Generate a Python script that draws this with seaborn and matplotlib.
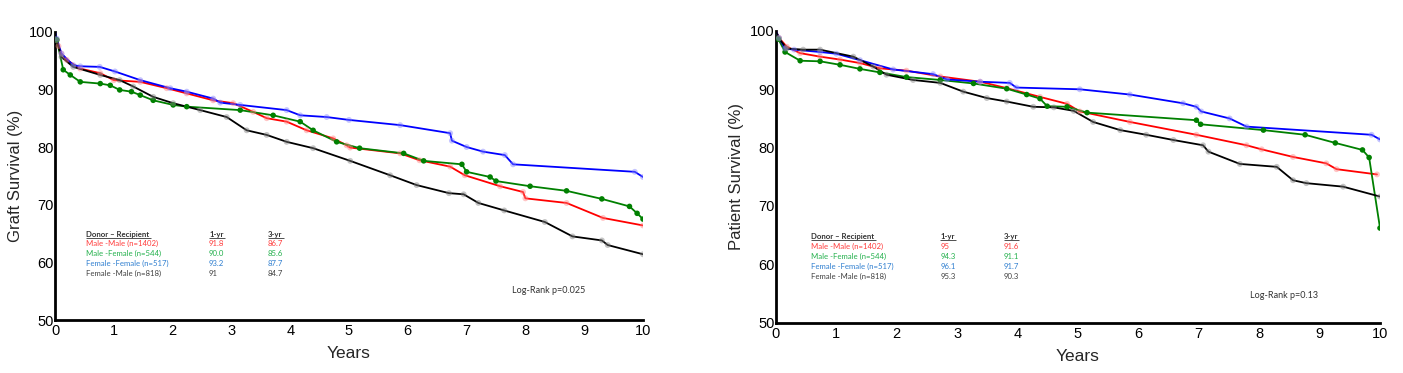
import matplotlib
matplotlib.use("Agg")
import matplotlib.pyplot as plt
import seaborn as sns
import pandas as pd

# ---------------- data ----------------
groups = ["Male -Male (n=1402)", "Male -Female (n=544)", "Female -Female (n=517)", "Female -Male (n=818)"]

# Graft survival
graft_mm_t = [0, 0.03, 0.06, 0.11, 0.2, 0.43, 0.77, 1.0, 1.45, 1.9, 2.24, 2.69, 3.03, 3.37, 3.6, 3.94, 4.28, 4.73, 4.96, 5.02, 5.87, 6.2, 6.72, 6.97, 7.57, 7.96, 8.0, 8.7, 9.32, 10.0]
graft_mm_s = [100, 98.6, 97.5, 96.2, 95.1, 93.6, 92.8, 91.6, 91.3, 90.2, 89.3, 88.1, 87.6, 86.1, 85.0, 84.4, 82.9, 81.5, 80.3, 79.9, 78.9, 77.7, 76.6, 75.1, 73.2, 72.2, 71.1, 70.3, 67.7, 66.4]

graft_mf_t = [0, 0.03, 0.14, 0.26, 0.43, 0.77, 0.94, 1.1, 1.3, 1.45, 1.67, 2.01, 2.24, 3.15, 3.71, 4.17, 4.39, 4.79, 5.18, 5.93, 6.27, 6.92, 7.0, 7.4, 7.5, 8.08, 8.7, 9.3, 9.77, 9.9, 10.0]
graft_mf_s = [100, 98.6, 93.4, 92.5, 91.3, 91.0, 90.7, 89.9, 89.6, 89.0, 88.1, 87.3, 87.0, 86.4, 85.5, 84.4, 82.9, 80.9, 79.8, 78.9, 77.6, 77.0, 75.7, 74.8, 74.1, 73.2, 72.4, 71.0, 69.7, 68.5, 67.5]

graft_ff_t = [0, 0.03, 0.11, 0.31, 0.43, 0.76, 1.02, 1.45, 1.96, 2.24, 2.69, 2.81, 3.15, 3.94, 4.17, 4.62, 5.0, 5.87, 6.72, 6.75, 7.0, 7.28, 7.65, 7.79, 9.86, 10.0]
graft_ff_s = [100, 98.8, 96.2, 94.2, 94.0, 93.9, 93.1, 91.6, 90.2, 89.6, 88.4, 87.7, 87.3, 86.4, 85.5, 85.2, 84.7, 83.8, 82.4, 81.1, 80.0, 79.2, 78.6, 77.0, 75.7, 74.8]

graft_fm_t = [0, 0.03, 0.11, 0.31, 0.77, 1.1, 1.33, 1.67, 2.01, 2.47, 2.92, 3.26, 3.6, 3.94, 4.39, 5.02, 5.7, 6.15, 6.7, 6.95, 7.2, 7.64, 8.33, 8.8, 9.3, 9.4, 10.0]
graft_fm_s = [100, 98.5, 95.6, 93.9, 92.5, 91.6, 90.5, 88.7, 87.6, 86.4, 85.2, 82.9, 82.1, 80.9, 79.8, 77.6, 75.1, 73.4, 72.0, 71.8, 70.3, 69.0, 67.0, 64.5, 63.8, 63.0, 61.4]

# Patient survival
pat_mm_t = [0, 0.05, 0.18, 0.4, 0.73, 1.06, 1.39, 1.72, 2.16, 2.72, 3.38, 3.82, 4.37, 4.82, 5.03, 5.86, 6.96, 7.79, 8.04, 8.56, 9.11, 9.28, 9.95]
pat_mm_s = [100, 98.8, 97.3, 96.2, 95.6, 95.1, 94.5, 93.6, 93.2, 92.2, 91.3, 90.2, 88.7, 87.5, 86.2, 84.4, 82.2, 80.4, 79.7, 78.4, 77.3, 76.3, 75.4]

pat_mf_t = [0, 0.04, 0.15, 0.4, 0.73, 1.06, 1.39, 1.72, 2.16, 2.72, 3.27, 3.82, 4.15, 4.37, 4.49, 4.82, 5.15, 6.96, 7.03, 8.07, 8.76, 9.26, 9.71, 9.82, 10.0]
pat_mf_s = [100, 98.6, 96.4, 94.9, 94.8, 94.2, 93.5, 92.9, 92.1, 91.6, 91.0, 90.1, 89.1, 88.4, 87.1, 87.0, 86.0, 84.7, 84.0, 83.0, 82.2, 80.8, 79.6, 78.3, 66.2]

pat_ff_t = [0, 0.05, 0.15, 0.3, 0.73, 1.0, 1.39, 1.94, 2.6, 2.83, 3.38, 3.87, 3.98, 5.03, 5.86, 6.74, 6.96, 7.04, 7.51, 7.79, 9.86, 10.0]
pat_ff_s = [100, 98.8, 97.0, 96.8, 96.4, 96.1, 95.0, 93.4, 92.6, 91.7, 91.3, 91.1, 90.3, 90.0, 89.1, 87.6, 87.0, 86.2, 85.0, 83.6, 82.2, 81.4]

pat_fm_t = [0, 0.05, 0.18, 0.45, 0.73, 1.28, 1.61, 1.83, 2.27, 2.72, 3.1, 3.49, 3.82, 4.26, 4.6, 4.93, 5.25, 5.7, 6.13, 6.58, 7.07, 7.16, 7.68, 8.29, 8.56, 8.78, 9.39, 10.0]
pat_fm_s = [100, 98.7, 97.0, 96.8, 96.8, 95.6, 93.9, 92.5, 91.6, 91.1, 89.6, 88.5, 87.9, 87.0, 86.9, 86.3, 84.4, 83.0, 82.2, 81.3, 80.4, 79.3, 77.2, 76.7, 74.4, 73.9, 73.3, 71.6]

graft_1yr = ["91.8", "90.0", "93.2", "91"]
graft_3yr = ["86.7", "85.6", "87.7", "84.7"]
pat_1yr = ["95", "94.3", "96.1", "95.3"]
pat_3yr = ["91.6", "91.1", "91.7", "90.3"]

# ---------------- styling ----------------
sns.set_theme(style="white")
plt.rcParams["font.family"] = ["Liberation Sans", "DejaVu Sans"]

line_colors = ["#ff0000", "#008000", "#0000ff", "#000000"]
marker_colors = ["#ff8080", "#008000", "#8080ff", "#808080"]
marker_alpha = [0.45, 1.0, 0.45, 0.45]
marker_size = [18, 16, 18, 18]
text_colors = ["#ff3b3b", "#22b04b", "#2f7fd0", "#404040"]

fig = plt.figure(figsize=(14.03, 3.73), dpi=100)
ax1 = fig.add_axes([55 / 1403, 1 - 320 / 373, (643 - 55) / 1403, (320 - 31.7) / 373])
ax2 = fig.add_axes([776 / 1403, 1 - 322.5 / 373, (1380 - 776) / 1403, (322.5 - 31) / 373])


def draw(ax, series, ylabel, yr1, yr3, legend_pos, logrank, logpos):
    for i, (t, s) in enumerate(series):
        df = pd.DataFrame({"Years": t, "Survival": s})
        sns.lineplot(data=df, x="Years", y="Survival", ax=ax, color=line_colors[i],
                     linewidth=1.3, estimator=None, sort=False, zorder=3 + i * 0.1)
        sns.scatterplot(data=df.iloc[1:], x="Years", y="Survival", ax=ax, color=marker_colors[i],
                        s=marker_size[i], alpha=marker_alpha[i], edgecolor="none", zorder=4 + i * 0.1,
                        legend=False)
    ax.set_xlim(0, 10)
    ax.set_ylim(50, 100)
    ax.set_xticks(range(0, 11))
    ax.set_yticks(range(50, 101, 10))
    ax.tick_params(axis="both", direction="in", length=6, width=1.5, labelsize=10.5, pad=1, colors="black")
    ax.tick_params(axis="x", pad=3)
    for sp in ["top", "right"]:
        ax.spines[sp].set_visible(False)
    for sp in ["left", "bottom"]:
        ax.spines[sp].set_linewidth(2)
        ax.spines[sp].set_color("black")
    ax.set_xlabel("Years", fontsize=12.5, labelpad=6)
    ax.set_ylabel(ylabel, fontsize=12, labelpad=4)
    ax.grid(False)

    lx, ly, c1, c3, dy, ulen, ulen2 = legend_pos
    fs = 5.6
    fam = ["Lato", "DejaVu Sans"]
    ax.text(lx, ly, "Donor – Recipient", fontsize=fs, color="#333333", fontweight="bold",
            va="center", ha="left", family=fam)
    ax.text(c1, ly, "1-yr", fontsize=fs, color="#333333", fontweight="bold", va="center", family=fam)
    ax.text(c3, ly, "3-yr", fontsize=fs, color="#333333", fontweight="bold", va="center", family=fam)
    # underlines of header texts
    ax.hlines(ly - 0.62, lx, lx + ulen, color="#333333", linewidth=0.6)
    ax.hlines(ly - 0.62, c1, c1 + ulen2, color="#333333", linewidth=0.6)
    ax.hlines(ly - 0.62, c3, c3 + ulen2, color="#333333", linewidth=0.6)
    for i in range(4):
        y = ly - dy * (i + 1)
        ax.text(lx, y, groups[i], fontsize=fs, color=text_colors[i], va="center", family=fam)
        ax.text(c1, y, yr1[i], fontsize=fs, color=text_colors[i], va="center", family=fam)
        ax.text(c3, y, yr3[i], fontsize=fs, color=text_colors[i], va="center", family=fam)
    ax.text(logpos[0], logpos[1], logrank, fontsize=6.5, color="#333333", va="center", family=fam)


draw(ax1, [(graft_mm_t, graft_mm_s), (graft_mf_t, graft_mf_s), (graft_ff_t, graft_ff_s), (graft_fm_t, graft_fm_s)],
     "Graft Survival (%)", graft_1yr, graft_3yr, (0.53, 64.9, 2.62, 3.62, 1.7, 1.10, 0.27),
     "Log-Rank p=0.025", (7.77, 55.2))
draw(ax2, [(pat_mm_t, pat_mm_s), (pat_mf_t, pat_mf_s), (pat_ff_t, pat_ff_s), (pat_fm_t, pat_fm_s)],
     "Patient Survival (%)", pat_1yr, pat_3yr, (0.58, 64.7, 2.72, 3.77, 1.72, 1.07, 0.26),
     "Log-Rank p=0.13", (7.85, 54.7))

fig.savefig("out.png", dpi=100)
